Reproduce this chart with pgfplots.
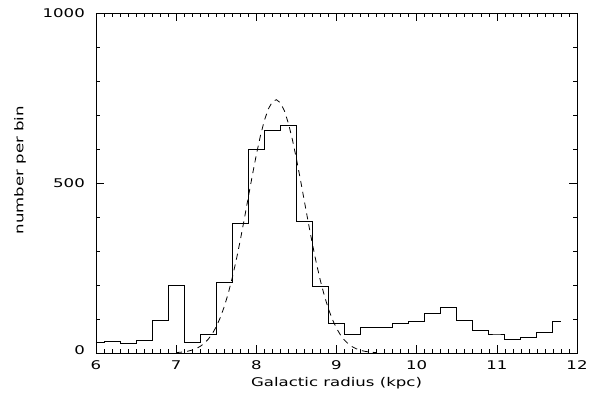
\documentclass[border=0pt]{standalone}
\usepackage{fontspec}
\setmainfont{DejaVu Sans}[FakeStretch=1.38]
\usepackage{pgfplots}
\pgfplotsset{compat=1.18}

\begin{document}
\begin{tikzpicture}
\useasboundingbox (-96pt,-57.5pt) rectangle (493pt,353pt);
\begin{axis}[
    scale only axis,
    width=481pt, height=340pt,
    at={(0,0)}, anchor=south west,
    xmin=6, xmax=12,
    ymin=0, ymax=1000,
    xtick={6,7,8,9,10,11,12},
    ytick={0,500,1000},
    yticklabels={\raisebox{5pt}{0},500,1000},
    minor x tick num=9,
    minor y tick num=4,
    tick align=inside,
    tick pos=both,
    major tick length=8pt,
    minor tick length=4pt,
    every tick/.style={black, line width=0.6pt},
    axis line style={line width=0.8pt},
    font=\fontsize{12}{14}\selectfont,
    /pgf/number format/assume math mode=true,
    /pgf/number format/1000 sep={},
    xticklabel style={anchor=center, yshift=-12pt},
    yticklabel style={anchor=east, inner sep=0pt, xshift=-11pt},
    xlabel={Galactic radius (kpc)},
    ylabel={number per bin},
    xlabel style={at={(axis description cs:0.5,-0.0897)}, anchor=center},
    ylabel style={at={(axis description cs:-0.158,0.538)}, anchor=center},
]

% histogram, bins of 0.2 kpc
\addplot[const plot mark mid, black, line width=1pt] coordinates {
    (6.0,32) (6.2,35) (6.4,29) (6.6,37) (6.8,95) (7.0,198)
    (7.2,30) (7.4,54) (7.6,206) (7.8,380) (8.0,598) (8.2,655)
    (8.4,669) (8.6,387) (8.8,195) (9.0,86) (9.2,54) (9.4,74)
    (9.6,74) (9.8,87) (10.0,93) (10.2,117) (10.4,134) (10.6,97)
    (10.8,66) (11.0,53) (11.2,40) (11.4,47) (11.6,61) (11.8,92)
};

% gaussian fit
\addplot[black, line width=0.8pt, dash pattern=on 6pt off 5pt] coordinates {
    (7.00,1.3) (7.05,2.2) (7.10,3.5) (7.15,5.6) (7.20,8.6)
    (7.25,13.1) (7.30,19.5) (7.35,28.3) (7.40,40.4) (7.45,56.4)
    (7.50,77.3) (7.55,103.8) (7.60,136.4) (7.65,175.6) (7.70,221.7)
    (7.75,274.1) (7.80,332.0) (7.85,394.1) (7.90,458.3) (7.95,522.2)
    (8.00,583.1) (8.05,637.9) (8.10,683.8) (8.15,718.0) (8.20,738.9)
    (8.25,745.0) (8.30,735.9) (8.35,712.2) (8.40,675.4) (8.45,627.6)
    (8.50,571.3) (8.55,509.7) (8.60,445.4) (8.65,381.4) (8.70,320.1)
    (8.75,263.1) (8.80,211.9) (8.85,167.3) (8.90,129.3) (8.95,98.0)
    (9.00,72.7) (9.05,52.9) (9.10,37.7) (9.15,26.3) (9.20,18.0)
    (9.25,12.1) (9.30,7.9) (9.35,5.1) (9.40,3.2) (9.45,2.0) (9.50,1.2)
};

\end{axis}
\end{tikzpicture}
\end{document}
